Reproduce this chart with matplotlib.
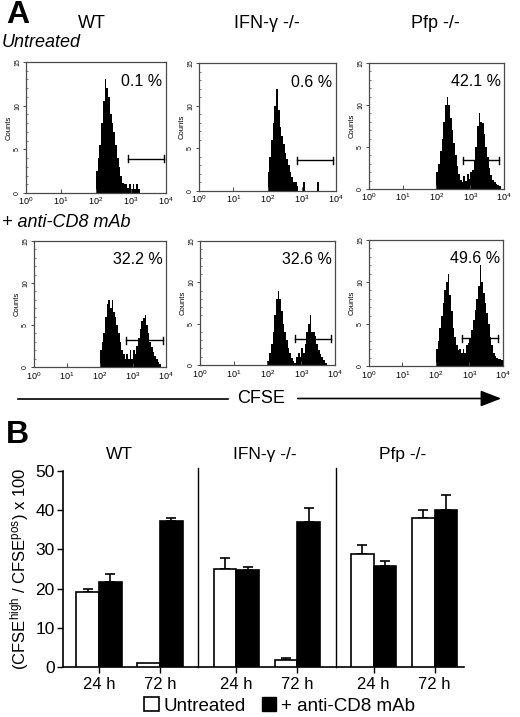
import matplotlib
matplotlib.use('Agg')
import matplotlib.pyplot as plt
import numpy as np
from matplotlib.patches import Patch, FancyArrowPatch
from matplotlib.lines import Line2D
from matplotlib.ticker import FixedLocator, LogLocator, NullFormatter, MultipleLocator

plt.rcParams['font.family'] = ['Liberation Sans', 'DejaVu Sans']
plt.rcParams['mathtext.fontset'] = 'custom'
plt.rcParams['mathtext.rm'] = 'Liberation Sans'
plt.rcParams['mathtext.it'] = 'Liberation Sans:italic'

# ---------------- Panel A data (CFSE histograms, counts per 0.05-decade bin from 10^2 to 10^4)
wt_untr = [2.5, 4, 5.5, 8, 10.5, 13, 12, 11, 9, 8,
           7, 5.5, 4, 3, 2, 1.2, 1, 1, 0.6, 1,
           0.5, 1, 0.5, 1, 0.5, 0, 0, 0, 0, 0,
           0, 0, 0, 0, 0, 0, 0, 0, 0, 0]
ifn_untr = [2.2, 4, 6, 8, 10, 12, 9.5, 7.5, 6.5, 5.5,
            4.5, 3.8, 3, 2.2, 1.6, 1.1, 1, 0.6, 0, 0,
            0, 1, 0, 0, 0, 0, 0, 0, 0, 1,
            0, 0, 0, 0, 0, 0, 0, 0, 0, 0]
pfp_untr = [2, 3, 4.5, 6, 8, 10, 11, 10, 8.5, 7,
            5.5, 4, 2.7, 1.8, 1.1, 0.8, 1.5, 1, 1.8, 1.2,
            2, 2.3, 3.5, 5, 7.5, 9, 8, 7.8, 6.5, 5,
            3.8, 2.5, 1.7, 1.1, 0.8, 0.6, 0.5, 0.3, 0, 0]
wt_anti = [2, 3, 4, 6, 7.5, 8, 7, 8, 6.5, 6,
           5, 4, 3, 2, 1.5, 1, 1.5, 1, 2, 1,
           2, 1.5, 2.5, 3.5, 4.5, 5.5, 5.8, 6.2, 5, 4,
           3, 2.4, 1.8, 1.3, 1, 0.6, 0.4, 0, 0, 0]
ifn_anti = [0.5, 1.5, 2.5, 4, 6, 8, 9, 8, 6.5, 5,
            4, 3, 2, 1.5, 0.8, 0.5, 0.3, 1, 1.5, 1,
            2, 1.5, 2.5, 4, 5, 6, 4, 4, 3.5, 2.5,
            1.8, 1.3, 1, 0.6, 0.3, 0, 0, 0, 0, 0]
pfp_anti = [2, 3, 4.5, 6, 7.5, 9, 10, 11, 8.5, 6.5,
            4.5, 3.5, 2.5, 1.9, 2, 1.5, 2, 1.5, 2.5, 2.8,
            3.2, 4.3, 5.5, 6.7, 8, 9.5, 12, 10, 8.7, 7.5,
            6.3, 5, 3.5, 2.5, 1.5, 1.2, 1, 0.8, 0.8, 0.7]
hist_counts = [wt_untr, ifn_untr, pfp_untr, wt_anti, ifn_anti, pfp_anti]
percent_labels = ['0.1 %', '0.6 %', '42.1 %', '32.2 %', '32.6 %', '49.6 %']
gate_lo = [2.91, 2.86, 2.79, 2.80, 2.81, 2.79]   # log10 CFSE
gate_hi = [3.94, 3.91, 3.85, 3.90, 3.88, 3.85]
gate_y = [3.9, 3.6, 3.4, 3.2, 3.2, 3.3]
genotypes_A = ['WT', 'IFN-γ -/-', 'Pfp -/-']
row_labels = ['Untreated', '+ anti-CD8 mAb']

# ---------------- Panel B data
genotypes_B = ['WT', 'IFN-γ -/-', 'Pfp -/-']
time_labels = ['24 h', '72 h', '24 h', '72 h', '24 h', '72 h']
untreated = [19.2, 0.9, 25.1, 1.9, 28.8, 37.9]
untreated_err = [0.7, 0.0, 2.8, 0.5, 2.2, 2.1]
anti_cd8 = [21.8, 37.2, 24.7, 36.9, 25.8, 40.0]
anti_cd8_err = [1.8, 0.9, 0.9, 3.7, 1.3, 3.8]

fig = plt.figure(figsize=(5.2, 7.17), dpi=100)

# axes rectangles (figure fractions)
rects = [
    [0.050, 0.7308, 0.269, 0.1827],
    [0.3827, 0.7336, 0.2635, 0.1785],
    [0.7096, 0.7364, 0.2596, 0.1757],
    [0.0654, 0.4881, 0.2538, 0.1757],
    [0.3846, 0.4909, 0.2596, 0.1729],
    [0.7096, 0.4895, 0.2577, 0.1757],
]
edges = 10 ** np.linspace(2.0, 4.0, 41)
spine_c = '#4a4a4a'
for i, r in enumerate(rects):
    ax = fig.add_axes(r)
    ax.stairs(hist_counts[i], edges, fill=True, color='black', baseline=0)
    ax.set_xscale('log')
    ax.set_xlim(1, 1e4)
    ax.set_ylim(0, 15)
    ax.xaxis.set_major_locator(FixedLocator([1, 10, 100, 1000, 10000]))
    ax.set_xticklabels([r'$\mathregular{10^{%d}}$' % k for k in range(5)], fontsize=6.5)
    ax.xaxis.set_minor_locator(LogLocator(base=10, subs=np.arange(2, 10)))
    ax.xaxis.set_minor_formatter(NullFormatter())
    ax.yaxis.set_major_locator(FixedLocator([0, 5, 10, 15]))
    ax.yaxis.set_minor_locator(MultipleLocator(1))
    ax.tick_params(axis='x', which='major', direction='in', length=3, width=0.7, pad=2, colors=spine_c, labelcolor='black')
    ax.tick_params(axis='x', which='minor', direction='in', length=1.8, width=0.5, colors=spine_c)
    ax.tick_params(axis='y', which='major', direction='out', length=2.5, width=0.7, pad=1, labelsize=5, labelrotation=90, colors=spine_c, labelcolor='black')
    ax.tick_params(axis='y', which='minor', direction='in', length=1.5, width=0.5, colors=spine_c)
    for lab in ax.get_yticklabels():
        lab.set_va('center')
    ax.set_ylabel('Counts', fontsize=5.5, labelpad=1)
    for s in ax.spines.values():
        s.set_color(spine_c)
        s.set_linewidth(0.9)
    # gate bracket
    lo, hi, gy = 10 ** gate_lo[i], 10 ** gate_hi[i], gate_y[i]
    ax.plot([lo, hi], [gy, gy], color='black', lw=1)
    ax.plot([lo, lo], [gy - 0.4, gy + 0.4], color='black', lw=1)
    ax.plot([hi, hi], [gy - 0.4, gy + 0.4], color='black', lw=1)
    ax.text(0.975, 0.85, percent_labels[i], transform=ax.transAxes, ha='right', va='center', fontsize=11.5)

# headers panel A
fig.text(0.012, 0.979, 'A', fontsize=23, fontweight='bold', ha='left', va='center')
header_x = [0.177, 0.514, 0.838]
for gx, g in zip(header_x, genotypes_A):
    fig.text(gx, 0.967, g, fontsize=13, ha='center', va='center')
fig.text(0.004, 0.941, row_labels[0], fontsize=13, style='italic', ha='left', va='center')
fig.text(0.004, 0.690, row_labels[1], fontsize=13, style='italic', ha='left', va='center')

# CFSE arrow
y_arrow = 1 - 398.5 / 717
fig.add_artist(Line2D([18 / 520, 228 / 520], [y_arrow, y_arrow], color='black', lw=1.2, transform=fig.transFigure))
fig.text(261 / 520, y_arrow, 'CFSE', fontsize=13, ha='center', va='center')
fig.add_artist(FancyArrowPatch((295 / 520, y_arrow), (504 / 520, y_arrow), transform=fig.transFigure,
                               arrowstyle='-|>,head_length=0.9,head_width=0.35', mutation_scale=14,
                               color='black', lw=1.2))

# ---------------- Panel B
axb = fig.add_axes([0.1212, 0.0697, 0.7712, 0.2734])
pos = np.array([0, 1, 2.25, 3.25, 4.5, 5.5])
w = 0.37
axb.bar(pos - w / 2, untreated, width=w, color='white', edgecolor='black', linewidth=1.2, zorder=3)
axb.bar(pos + w / 2, anti_cd8, width=w, color='black', edgecolor='black', linewidth=1.2, zorder=3)
ue = np.array(untreated_err)
ae = np.array(anti_cd8_err)
m = ue > 0
axb.errorbar((pos - w / 2)[m], np.array(untreated)[m], yerr=[np.zeros(m.sum()), ue[m]], fmt='none',
             ecolor='black', elinewidth=1.2, capsize=3.5, capthick=1.2, zorder=2)
axb.errorbar(pos + w / 2, anti_cd8, yerr=[np.zeros(len(ae)), ae], fmt='none',
             ecolor='black', elinewidth=1.2, capsize=3.5, capthick=1.2, zorder=2)
axb.set_xlim(-0.59, 5.98)
axb.set_ylim(0, 50)
axb.set_yticks([0, 10, 20, 30, 40, 50])
axb.set_xticks(pos)
axb.set_xticklabels(time_labels)
axb.tick_params(axis='both', labelsize=12, length=4, width=1)
axb.tick_params(axis='y', labelsize=12.5)
axb.tick_params(axis='x', pad=3)
axb.tick_params(axis='y', pad=2)
for side in ['top', 'right']:
    axb.spines[side].set_visible(False)
for side in ['left', 'bottom']:
    axb.spines[side].set_linewidth(1.2)
for sx in [(pos[1] + pos[2]) / 2, (pos[3] + pos[4]) / 2]:
    axb.plot([sx, sx], [0, 50.8], color='black', lw=1, clip_on=False)
group_x = [0.34, 2.72, 4.98]
for gx, g in zip(group_x, genotypes_B):
    axb.text(gx, 54.3, g, fontsize=12.5, ha='center', va='center')
axb.set_ylabel(r'(CFSE$^{\mathregular{high}}$ / CFSE$^{\mathregular{pos}}$) x 100', fontsize=12, labelpad=3)
fig.text(0.012, 0.393, 'B', fontsize=23, fontweight='bold', ha='left', va='center')

handles = [Patch(facecolor='white', edgecolor='black', linewidth=1.2, label='Untreated'),
           Patch(facecolor='black', edgecolor='black', label='+ anti-CD8 mAb')]
fig.legend(handles=handles, loc='center', bbox_to_anchor=(0.538, 0.0153), ncol=2, frameon=False,
           fontsize=13.5, handlelength=0.75, handleheight=0.75, handletextpad=0.25, columnspacing=0.9,
           borderpad=0, borderaxespad=0)

fig.savefig('out.png', dpi=100)
